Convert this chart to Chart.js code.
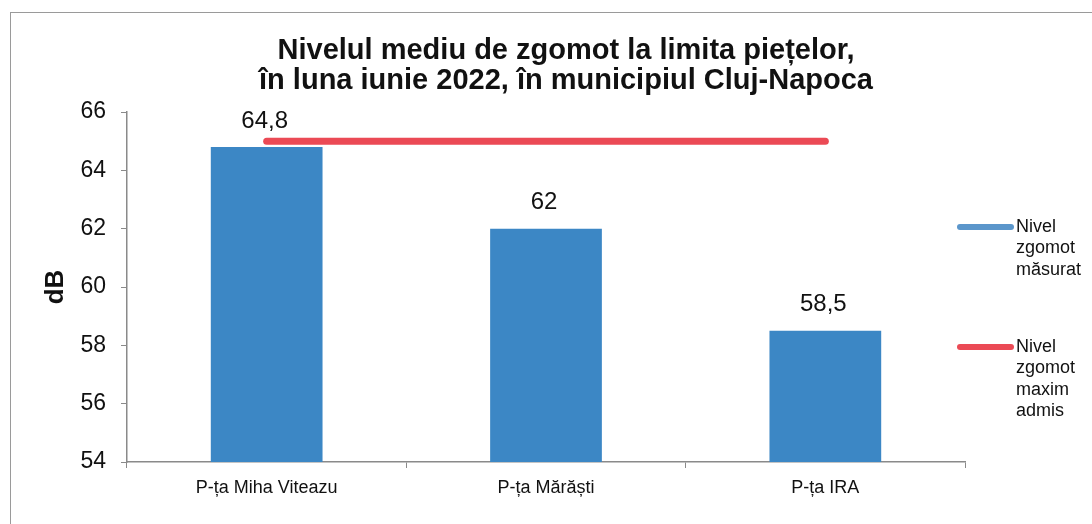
<!DOCTYPE html>
<html lang="ro">
<head>
<meta charset="utf-8">
<title>Nivelul mediu de zgomot</title>
<script src="https://cdn.jsdelivr.net/npm/chart.js@4"></script>
<style>
  html, body { margin: 0; padding: 0; background: #fff; }
  #wrap {
    position: relative;
    width: 1092px;
    height: 524px;
    overflow: hidden;
  }
  #frame {
    position: absolute;
    left: 10px;
    top: 12px;
    right: -2px;
    bottom: -2px;
    border-top: 1px solid #9a9a9a;
    border-left: 1px solid #9a9a9a;
    pointer-events: none;
  }
</style>
</head>
<body>
<div id="wrap">
  <canvas id="noiseChart" width="1092" height="524"></canvas>
  <div id="frame"></div>
</div>
<script>
"use strict";

const markets = ["P-ța Miha Viteazu", "P-ța Mărăști", "P-ța IRA"];
const measured = [64.8, 62, 58.5];
const maxAllowed = [65, 65, 65];
const titleLines = [
  "Nivelul mediu de zgomot la limita piețelor,",
  "în luna iunie 2022, în municipiul Cluj-Napoca",
];
const legendMeasured = ["Nivel", "zgomot", "măsurat"];
const legendMax = ["Nivel", "zgomot", "maxim", "admis"];

const FONT = "'Liberation Sans', Arial, sans-serif";
const BLUE = "#3c87c5";
const RED = "#eb4a55";

/**
 * Writes numbers the Romanian way (comma as decimal separator)
 * @param {Number} v
 */
const fmt = (v) => String(v).replace(".", ",");

/**
 * Title, value labels, y axis title and the right-hand legend
 */
const decorations = {
  id: "decorations",
  afterDatasetsDraw(chart) {
    const ctx = chart.ctx;
    ctx.save();
    ctx.fillStyle = "#111";
    ctx.textAlign = "center";
    ctx.textBaseline = "middle";

    // value labels above the bars
    ctx.font = `24px ${FONT}`;
    chart.getDatasetMeta(0).data.forEach((bar, i) => {
      ctx.fillText(fmt(measured[i]), bar.x - 2, bar.y - 26);
    });

    // title
    ctx.font = `bold 29px ${FONT}`;
    ctx.fillText(titleLines[0], 566, 51);
    ctx.fillText(titleLines[1], 566, 81);

    // y axis title
    ctx.save();
    ctx.translate(56, 287);
    ctx.rotate(-Math.PI / 2);
    ctx.font = `bold 26px ${FONT}`;
    ctx.fillText("dB", 0, 0);
    ctx.restore();

    // legend
    const items = [
      { lines: legendMeasured, color: chart.data.datasets[0].legendColor, y: 227 },
      { lines: legendMax, color: chart.data.datasets[1].borderColor, y: 347 },
    ];
    ctx.textAlign = "left";
    ctx.font = `18px ${FONT}`;
    items.forEach((item) => {
      ctx.strokeStyle = item.color;
      ctx.lineWidth = 6;
      ctx.lineCap = "round";
      ctx.beginPath();
      ctx.moveTo(960, item.y);
      ctx.lineTo(1011, item.y);
      ctx.stroke();
      item.lines.forEach((t, k) => ctx.fillText(t, 1016, item.y + k * 21.5));
    });
    ctx.restore();
  },
};

/**
 * Builds the combined bar / line chart
 * @param {DOM element} domChart canvas
 */
function buildChart(domChart) {
  return new Chart(domChart, {
    type: "bar",
    data: {
      labels: markets,
      datasets: [
        {
          type: "bar",
          label: "Nivel zgomot măsurat",
          data: measured,
          backgroundColor: BLUE,
          legendColor: "#5b96cb",
          barPercentage: 0.4,
          categoryPercentage: 1,
          order: 2,
        },
        {
          type: "line",
          label: "Nivel zgomot maxim admis",
          data: maxAllowed,
          borderColor: RED,
          borderWidth: 7,
          borderCapStyle: "round",
          pointRadius: 0,
          fill: false,
          order: 1,
        },
      ],
    },
    options: {
      responsive: false,
      animation: false,
      devicePixelRatio: 1,
      layout: { padding: { top: 112, right: 127, left: 0, bottom: 0 } },
      plugins: {
        legend: { display: false },
        title: { display: false },
        tooltip: { enabled: false },
      },
      scales: {
        x: {
          afterFit: (s) => (s.height = 62),
          grid: {
            offset: true,
            drawOnChartArea: false,
            tickLength: 6,
            color: "#8a8a8a",
          },
          border: { color: "#8a8a8a", width: 1.5 },
          ticks: {
            color: "#111",
            padding: 9,
            font: { family: FONT, size: 18 },
          },
        },
        y: {
          min: 54,
          max: 66,
          afterFit: (s) => (s.width = 127),
          grid: {
            drawOnChartArea: false,
            tickLength: 6,
            color: "#8a8a8a",
          },
          border: { color: "#8a8a8a", width: 1.5 },
          ticks: {
            stepSize: 2,
            color: "#111",
            padding: 15,
            font: { family: FONT, size: 23 },
          },
        },
      },
    },
    plugins: [decorations],
  });
}

buildChart(document.getElementById("noiseChart"));
</script>
</body>
</html>
